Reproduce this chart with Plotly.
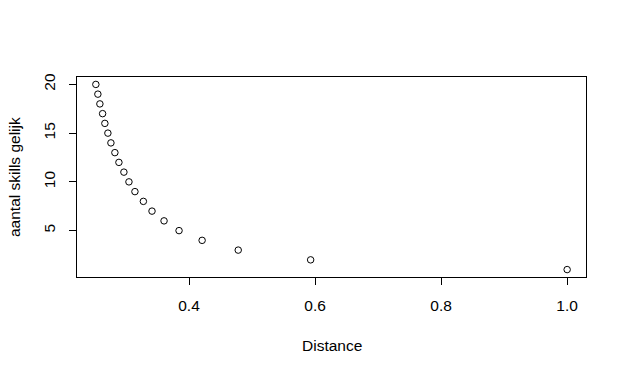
import plotly.graph_objects as go

distance = [1.0, 0.5930, 0.4781, 0.4208, 0.3842, 0.3604, 0.3413, 0.3276, 0.3142, 0.3047,
            0.2967, 0.2888, 0.2824, 0.2761, 0.2713, 0.2665, 0.2629, 0.2586, 0.2554, 0.2522]
skills = list(range(1, 21))

x_ticks = [0.4, 0.6, 0.8, 1.0]
x_labels = ["0.4", "0.6", "0.8", "1.0"]
y_ticks = [5, 10, 15, 20]
y_labels = ["5", "10", "15", "20"]

font = dict(family="Liberation Sans, Arial, sans-serif", size=15.5, color="black")

fig = go.Figure(go.Scatter(
    x=distance, y=skills, mode="markers",
    marker=dict(symbol="circle-open", size=6.5, color="black", line=dict(width=1, color="black")),
))

xmin, xmax = min(distance), max(distance)
ymin, ymax = min(skills), max(skills)
xp = 0.04 * (xmax - xmin)
yp = 0.04 * (ymax - ymin)

fig.update_layout(
    width=627, height=375,
    margin=dict(l=77, r=41, t=77, b=98),
    paper_bgcolor="white", plot_bgcolor="white",
    showlegend=False,
    font=font,
    xaxis=dict(range=[xmin - xp, xmax + xp], tickvals=x_ticks, ticktext=x_labels,
               showgrid=False, zeroline=False, showline=True, mirror=True,
               linecolor="black", linewidth=1, ticks="outside", ticklen=7,
               tickcolor="black", tickfont=font, ticklabelstandoff=7),
    yaxis=dict(range=[ymin - yp, ymax + yp], tickvals=y_ticks, ticktext=y_labels,
               showgrid=False, zeroline=False, showline=True, mirror=True,
               linecolor="black", linewidth=1, ticks="outside", ticklen=7,
               tickcolor="black", tickfont=font, tickangle=-90, ticklabelstandoff=8),
    annotations=[
        dict(text="Distance", xref="paper", yref="paper", x=0.5, y=0,
             yshift=-68, showarrow=False, font=font, yanchor="middle"),
        dict(text="aantal skills gelijk", xref="paper", yref="paper", x=0, y=0.5,
             xshift=-63, showarrow=False, font=font, textangle=-90, xanchor="center"),
    ],
)

fig.write_html("out.html")
